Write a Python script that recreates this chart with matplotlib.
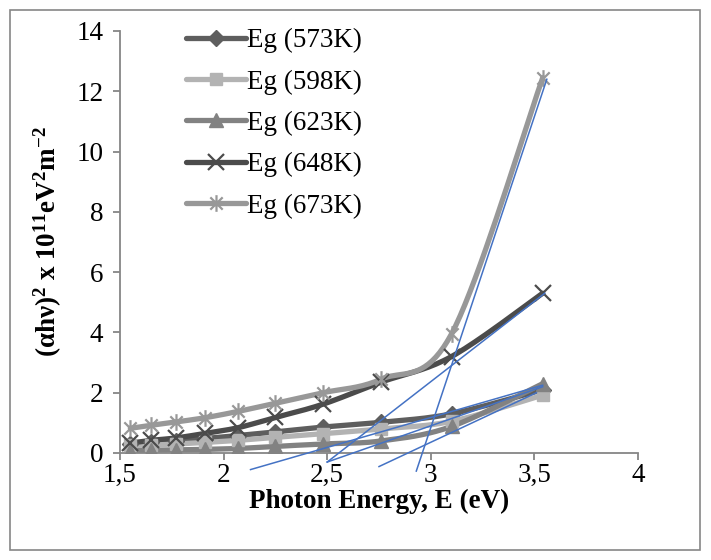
import numpy as np
import matplotlib
matplotlib.use("Agg")
import matplotlib.pyplot as plt
from matplotlib.path import Path
from matplotlib.patches import Rectangle

plt.rcParams['font.family'] = ['Liberation Serif', 'DejaVu Serif']
plt.rcParams['mathtext.fontset'] = 'custom'
plt.rcParams['mathtext.rm'] = 'Liberation Serif'
plt.rcParams['mathtext.it'] = 'Liberation Serif:italic'
plt.rcParams['mathtext.bf'] = 'Liberation Serif:bold'

# ---- data ----
energy = [1.55, 1.65, 1.77, 1.91, 2.07, 2.25, 2.48, 2.76, 3.10, 3.54]
eg_573 = [0.30, 0.35, 0.40, 0.48, 0.58, 0.70, 0.86, 1.02, 1.30, 2.10]
eg_598 = [0.25, 0.27, 0.30, 0.35, 0.42, 0.52, 0.64, 0.80, 1.05, 1.92]
eg_623 = [0.08, 0.09, 0.10, 0.12, 0.15, 0.22, 0.30, 0.40, 0.88, 2.30]
eg_648 = [0.33, 0.42, 0.50, 0.65, 0.84, 1.18, 1.62, 2.35, 3.20, 5.30]
eg_673 = [0.82, 0.92, 1.03, 1.17, 1.38, 1.65, 2.00, 2.45, 3.95, 12.45]
labels = ['Eg (573K)', 'Eg (598K)', 'Eg (623K)', 'Eg (648K)', 'Eg (673K)']

# tangent (extrapolation) lines: start/end points
tan_x0 = [2.13, 2.50, 2.50, 2.75, 2.93]
tan_y0 = [-0.55, -0.30, -0.30, -0.45, -0.60]
tan_x1 = [3.54, 3.55, 3.54, 3.51, 3.56]
tan_y1 = [2.25, 5.30, 2.20, 2.00, 12.40]

xticks = [1.5, 2, 2.5, 3, 3.5, 4]
xticklabels = ['1,5', '2', '2,5', '3', '3,5', '4']
yticks = [0, 2, 4, 6, 8, 10, 12, 14]

# ---- helpers ----
def smooth(x, y, n=20, xs=2.5, ys=14.0):
    x = np.asarray(x, float) / xs
    y = np.asarray(y, float) / ys
    P = np.column_stack([x, y])
    P = np.vstack([P[0], P, P[-1]])
    out = []
    for i in range(1, len(P) - 2):
        p0, p1, p2, p3 = P[i - 1], P[i], P[i + 1], P[i + 2]
        t = np.linspace(0, 1, n, endpoint=False)[:, None]
        c1 = p1 + (p2 - p0) / 6.0
        c2 = p2 - (p3 - p1) / 6.0
        b = ((1 - t) ** 3) * p1 + 3 * ((1 - t) ** 2) * t * c1 + 3 * (1 - t) * t ** 2 * c2 + t ** 3 * p2
        out.append(b)
    out.append(P[-2][None, :])
    out = np.vstack(out)
    return out[:, 0] * xs, out[:, 1] * ys

star_path = Path(
    [(-1, -1), (1, 1), (-1, 1), (1, -1), (0, -1.35), (0, 1.35)],
    [Path.MOVETO, Path.LINETO, Path.MOVETO, Path.LINETO, Path.MOVETO, Path.LINETO])

series = [eg_573, eg_598, eg_623, eg_648, eg_673]
colors = ['#5e5e5e', '#b3b3b3', '#828282', '#4b4b4b', '#989898']
markers = ['D', 's', '^', 'x', star_path]
msizes = [8, 9, 10, 11, 12]
filled = [True, True, True, False, False]

fig = plt.figure(figsize=(7.11, 5.60), dpi=100)
ax = fig.add_axes([120 / 711, (560 - 453) / 560, (638 - 120) / 711, (453 - 31) / 560])

for ys_, c, m, ms, f, lab in zip(series, colors, markers, msizes, filled, labels):
    sx, sy = smooth(energy, ys_)
    ax.plot(sx, sy, color=c, lw=3.8, solid_capstyle='round', zorder=2)
    if f:
        ax.plot(energy, ys_, ls='none', marker=m, ms=ms, color=c, mec=c, zorder=3)
    else:
        ax.plot(energy, ys_, ls='none', marker=m, ms=ms, mfc='none', mec=c, mew=1.6, zorder=3)
    # legend proxy
    if f:
        ax.plot([], [], color=c, lw=3.8, marker=m, ms=ms, mec=c, label=lab, solid_capstyle='round')
    else:
        ax.plot([], [], color=c, lw=3.8, marker=m, ms=ms, mfc='none', mec=c, mew=1.6, label=lab,
                solid_capstyle='round')

for a, b, c_, d in zip(tan_x0, tan_y0, tan_x1, tan_y1):
    ax.plot([a, c_], [b, d], color='#4472c4', lw=1.1, zorder=4, clip_on=False)

ax.set_xlim(1.5, 4)
ax.set_ylim(0, 14)
ax.set_xticks(xticks)
ax.set_xticklabels(xticklabels)
ax.set_yticks(yticks)
for s in ['top', 'right']:
    ax.spines[s].set_visible(False)
for s in ['left', 'bottom']:
    ax.spines[s].set_color('#868686')
    ax.spines[s].set_linewidth(1.3)
ax.tick_params(axis='both', direction='out', length=5, width=1.3, color='#868686',
               labelsize=19.5, labelcolor='black')
ax.tick_params(axis='x', pad=2)
ax.tick_params(axis='y', pad=7)

ax.set_xlabel('Photon Energy, E (eV)', fontsize=19.5, fontweight='bold', labelpad=1)
ax.set_ylabel(r'$\mathbf{(αhν)^2\ x\ 10^{11}eV^2m^{-2}}$', fontsize=19.5, labelpad=9)

leg = ax.legend(loc='upper left', bbox_to_anchor=(186 / 711, 1 - 28 / 560),
                bbox_transform=fig.transFigure, frameon=False, fontsize=19.5,
                handlelength=2.2, handletextpad=0.05, labelspacing=0.6, borderpad=0,
                borderaxespad=0)

fig.patches.append(Rectangle((10 / 711, 10 / 560), 690 / 711, 540 / 560, transform=fig.transFigure,
                             fill=False, edgecolor='#868686', lw=1.2))

fig.savefig('out.png', dpi=100)
